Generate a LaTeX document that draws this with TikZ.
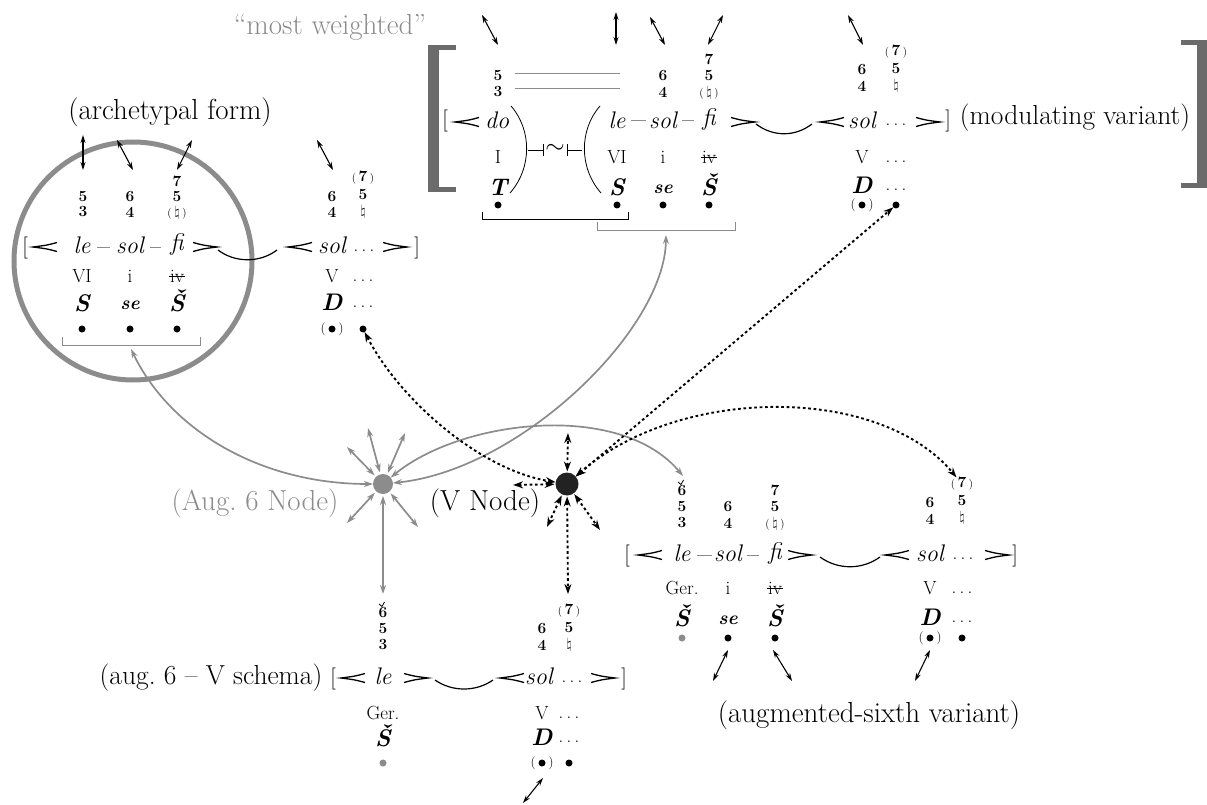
\documentclass[tikz,border=0pt]{standalone}
\usepackage{fontspec}
\usetikzlibrary{arrows.meta}
\definecolor{gr}{HTML}{8C8C8C}
\definecolor{brk}{HTML}{6B6B6B}
\definecolor{vn}{HTML}{222222}
\newcommand\fs[1]{\fontsize{#1}{#1}\selectfont}
\newcommand\ivs{\ooalign{iv\cr\hidewidth\rule[.26em]{.85em}{.06em}\hidewidth\cr}}
\newcommand\pp[1]{{\mdseries\fs{11}(}\,#1\,{\mdseries\fs{11})}}
\newcommand\nat{$\natural$}
\newcommand\pdot[3]{\node[dt] (#1) at (#2,#3) {}; \node[prn] (#1p) at (#2,#3) {(\hspace{13pt})};}
\newcommand\augm[1]{\draw[line width=0.8pt] ([shift={(-4,-9)}]#1.center) -- ++(3,2.5) -- ++(2.5,-4.5);}
\tikzset{
  every node/.style={inner sep=0pt, outer sep=0pt},
  lab/.style={font=\fs{29}},
  syl/.style={font=\fs{24}\itshape},
  rn/.style={font=\fs{19}},
  fn/.style={font=\fs{24}\bfseries\itshape},
  sefn/.style={font=\fs{19}\bfseries\itshape},
  fig/.style={font=\fs{15.5}\bfseries},
  brak/.style={font=\fs{22}},
  ell/.style={font=\fs{19}},
  tild/.style={font=\fs{26}},
  dt/.style={circle, fill=black, minimum size=7pt},
  gdt/.style={circle, fill=gr, minimum size=7pt},
  prn/.style={font=\fs{13}},
  dash line/.style={gr, line width=1pt},
  brk line/.style={line width=0.9pt},
  slur/.style={line width=1.2pt},
  paren line/.style={line width=0.8pt},
  darr/.style={line width=1.1pt, {Stealth[length=8pt,width=5pt]}-{Stealth[length=8pt,width=5pt]}},
  garr/.style={gr, line width=1.7pt, {Stealth[length=9pt,width=6pt]}-{Stealth[length=9pt,width=6pt]}},
  dotarr/.style={line width=1.9pt, dash pattern=on 2.7pt off 2.7pt, {Stealth[length=10pt,width=7pt]}-{Stealth[length=10pt,width=7pt]}},
  ltp/.pic={\draw[line width=1.3pt] (12,-4.5) .. controls (2,-1.8) .. (-12,0) .. controls (2,1.8) .. (12,4.5);},
  gtp/.pic={\draw[line width=1.3pt] (-12,-4.5) .. controls (-2,-1.8) .. (12,0) .. controls (-2,1.8) .. (-12,4.5);},
}
\begin{document}
\begin{tikzpicture}[x=1pt, y=-1pt]
\useasboundingbox (0,0) rectangle (1207,805);

% ================= TOP BLOCK (modulating variant) =================
\node[lab, text=gr] (mw) at (330,27) {``most weighted''};
\fill[brk] (428,45) rectangle (439,192);
\fill[brk] (428,45) rectangle (456,50);
\fill[brk] (428,187) rectangle (456,192);
\fill[brk] (1197,40) rectangle (1207,188);
\fill[brk] (1181,40) rectangle (1207,45);
\fill[brk] (1181,183) rectangle (1207,188);

\coordinate (ta1s) at (482,15); \coordinate (ta1e) at (498,45);
\coordinate (ta2s) at (616,12); \coordinate (ta2e) at (616,45);
\coordinate (ta3s) at (650,17); \coordinate (ta3e) at (665,45);
\coordinate (ta4s) at (723,15); \coordinate (ta4e) at (708,45);
\coordinate (ta5s) at (848,15); \coordinate (ta5e) at (863,45);
\foreach \i in {1,...,5} {\draw[darr] (ta\i s) -- (ta\i e);}

\node[fig] (tf1a) at (498,76) {5};
\node[fig] (tf1b) at (498,92) {3};
\node[fig] (tf3a) at (663,76) {6};
\node[fig] (tf3b) at (663,92) {4};
\node[fig] (tf4a) at (709,59) {7};
\node[fig] (tf4b) at (709,76) {5};
\node[fig] (tf4c) at (709,93) {\pp{\nat}};
\node[fig] (tf5a) at (862,70) {6};
\node[fig] (tf5b) at (862,86) {4};
\node[fig] (tf6a) at (896,52) {\pp{7}};
\node[fig] (tf6b) at (896,69) {5};
\node[fig] (tf6c) at (896,86) {\nat};
\draw[gr, line width=0.8pt] (515,73) -- (620,73);
\draw[gr, line width=0.8pt] (515,88) -- (620,88);

\node[brak] (tbrL) at (445,121) {[};
\pic at (467,122) {ltp};
\node[syl] (tdo) at (497,120) {do};
\draw[paren line] (511,106) .. controls (532,130) and (532,168) .. (510,193);
\draw[paren line] (528,150) -- (543,150) (543,144) -- (543,156);
\node[tild] (ttil) at (555,149) {$\sim$};
\draw[paren line] (567,144) -- (567,156) (567,150) -- (582,150);
\draw[paren line] (600,106) .. controls (579,130) and (579,168) .. (601,193);
\node[syl] (tle) at (617,120) {le};
\draw[dash line] (631,121) -- (646,121);
\node[syl] (tsol) at (663,120) {sol};
\draw[dash line] (682,121) -- (694,121);
\node[syl] (tfi) at (709,120) {fi};
\pic at (743,122) {gtp};
\draw[slur] (756,124) .. controls (773,137) and (795,137) .. (812,124);
\pic at (832,122) {ltp};
\node[syl] (tsol2) at (862,120) {sol};
\node[ell] (tell1) at (896,125) {.\,.\,.};
\pic at (928,122) {gtp};
\node[brak] (tbrR) at (948,121) {]};
\node[lab, font=\fs{27.5}] (tlab) at (1075,118) {(modulating variant)};

\node[rn] (tI) at (498,157) {I};
\node[rn] (tVI) at (617,157) {VI};
\node[rn] (ti) at (663,157) {i};
\node[rn] (tiv) at (709,157) {\ivs};
\node[rn] (tV) at (862,157) {V};
\node[ell] (tell2) at (896,162) {.\,.\,.};

\node[fn] (tT) at (498,187) {T};
\node[fn] (tS) at (617,187) {S};
\node[sefn] (tse) at (663,189) {se};
\node[fn] (tSv) at (709,185) {\v{S}};
\node[fn] (tD) at (862,185) {D};
\node[ell] (tell3) at (896,190) {.\,.\,.};

\node[dt] (td1) at (498,205) {};
\node[dt] (td2) at (617,205) {};
\node[dt] (td3) at (663,205) {};
\node[dt] (td4) at (709,205) {};
\pdot{td5}{862}{205}
\node[dt] (td6) at (896,205) {};

\draw[brk line] (482,212) -- (482,219) -- (628,219) -- (628,212);
\draw[brk line, gr] (597,222) -- (597,230) -- (735,230) -- (735,222);
\coordinate (gbT) at (666,235);

% ================= LEFT BLOCK (archetypal form) =================
\draw[gr, line width=5pt] (133,261) circle[radius=119pt];
\node[lab] (llab) at (170,112) {(archetypal form)};
\coordinate (la1s) at (83,135); \coordinate (la1e) at (83,170);
\coordinate (la2s) at (117,140); \coordinate (la2e) at (133,170);
\coordinate (la3s) at (192,140); \coordinate (la3e) at (177,170);
\coordinate (la4s) at (317,140); \coordinate (la4e) at (333,170);
\foreach \i in {1,...,4} {\draw[darr] (la\i s) -- (la\i e);}

\node[fig] (lf1a) at (83,197) {5};
\node[fig] (lf1b) at (83,212) {3};
\node[fig] (lf2a) at (130,197) {6};
\node[fig] (lf2b) at (130,212) {4};
\node[fig] (lf3a) at (177,181) {7};
\node[fig] (lf3b) at (177,197) {5};
\node[fig] (lf3c) at (177,213) {\pp{\nat}};
\node[fig] (lf4a) at (332,197) {6};
\node[fig] (lf4b) at (332,212) {4};
\node[fig] (lf5a) at (363,178) {\pp{7}};
\node[fig] (lf5b) at (363,195) {5};
\node[fig] (lf5c) at (363,212) {\nat};

\node[brak] (lbrL) at (25,248) {[};
\pic at (45,247) {ltp};
\node[syl] (lle) at (82,245) {le};
\draw[dash line] (97,247) -- (110,247);
\node[syl] (lsol) at (130,245) {sol};
\draw[dash line] (150,247) -- (161,247);
\node[syl] (lfi) at (177,245) {fi};
\pic at (205,247) {gtp};
\draw[slur] (218,250) .. controls (235,263) and (260,263) .. (277,250);
\pic at (300,247) {ltp};
\node[syl] (lsol2) at (332,245) {sol};
\node[ell] (lell1) at (364,251) {.\,.\,.};
\pic at (395,247) {gtp};
\node[brak] (lbrR) at (417,248) {]};

\node[rn] (lVI) at (82,276) {VI};
\node[rn] (li) at (130,276) {i};
\node[rn] (liv) at (177,276) {\ivs};
\node[rn] (lV) at (332,276) {V};
\node[ell] (lell2) at (363,281) {.\,.\,.};

\node[fn] (lS) at (82,303) {S};
\node[sefn] (lse) at (130,305) {se};
\node[fn] (lSv) at (177,301) {\v{S}};
\node[fn] (lD) at (332,302) {D};
\node[ell] (lell3) at (363,307) {.\,.\,.};

\node[dt] (ld1) at (82,329) {};
\node[dt] (ld2) at (130,329) {};
\node[dt] (ld3) at (177,329) {};
\pdot{ld4}{332}{329}
\node[dt] (ld5) at (363,329) {};

\draw[brk line, gr] (62,337) -- (62,345) -- (200,345) -- (200,337);
\coordinate (gbL) at (131,349);

% ================= CENTRAL NODES =================
\node[circle, fill=gr, minimum size=20pt] (A6) at (383,484) {};
\node[circle, fill=vn, minimum size=23pt] (V) at (567,484) {};
\node[lab, text=gr] (A6lab) at (255,503) {(Aug.\ 6 Node)};
\node[lab] (Vlab) at (485,503) {(V Node)};

% ================= RIGHT BLOCK (augmented-sixth variant) =================
\node[fig] (rf1a) at (682,491) {6};
\augm{rf1a}
\node[fig] (rf1b) at (682,507) {5};
\node[fig] (rf1c) at (682,523) {3};
\node[fig] (rf2a) at (728,507) {6};
\node[fig] (rf2b) at (728,523) {4};
\node[fig] (rf3a) at (775,490) {7};
\node[fig] (rf3b) at (775,507) {5};
\node[fig] (rf3c) at (775,524) {\pp{\nat}};
\node[fig] (rf4a) at (930,503) {6};
\node[fig] (rf4b) at (930,519) {4};
\node[fig] (rf5a) at (962,484) {\pp{7}};
\node[fig] (rf5b) at (962,501) {5};
\node[fig] (rf5c) at (962,518) {\nat};

\node[brak] (rbrL) at (627,556) {[};
\pic at (650,555) {ltp};
\node[syl] (rle) at (682,553) {le};
\draw[dash line] (697,555) -- (712,555);
\node[syl] (rsol) at (728,553) {sol};
\draw[dash line] (747,555) -- (759,555);
\node[syl] (rfi) at (775,553) {fi};
\pic at (800,555) {gtp};
\draw[slur] (820,557) .. controls (838,570) and (862,570) .. (880,557);
\pic at (897,555) {ltp};
\node[syl] (rsol2) at (930,553) {sol};
\node[ell] (rell1) at (963,559) {.\,.\,.};
\pic at (997,555) {gtp};
\node[brak] (rbrR) at (1015,556) {]};

\node[rn] (rGer) at (682,588) {Ger.};
\node[rn] (ri) at (728,588) {i};
\node[rn] (riv) at (775,588) {\ivs};
\node[rn] (rV) at (930,588) {V};
\node[ell] (rell2) at (962,593) {.\,.\,.};

\node[fn] (rSv1) at (682,616) {\v{S}};
\node[sefn] (rse) at (728,620) {se};
\node[fn] (rSv2) at (775,616) {\v{S}};
\node[fn] (rD) at (930,617) {D};
\node[ell] (rell3) at (962,622) {.\,.\,.};

\node[gdt] (rd1) at (682,638) {};
\node[dt] (rd2) at (728,638) {};
\node[dt] (rd3) at (775,638) {};
\pdot{rd4}{930}{638}
\node[dt] (rd5) at (962,638) {};

\coordinate (ra1s) at (728,650); \coordinate (ra1e) at (713,681);
\coordinate (ra2s) at (773,650); \coordinate (ra2e) at (792,681);
\coordinate (ra3s) at (930,650); \coordinate (ra3e) at (915,681);
\foreach \i in {1,...,3} {\draw[darr] (ra\i s) -- (ra\i e);}
\node[lab] (rlab) at (869,715) {(augmented-sixth variant)};

% ================= BOTTOM BLOCK (aug. 6 - V schema) =================
\node[lab, font=\fs{27.5}] (blab) at (211,678) {(aug.\ 6 -- V schema)};
\node[brak] (bbrL) at (333,679) {[};
\pic at (353,678) {ltp};
\node[syl] (ble) at (383,676) {le};
\pic at (416,678) {gtp};
\draw[slur] (435,680) .. controls (452,692) and (476,692) .. (493,680);
\pic at (512,678) {ltp};
\node[syl] (bsol) at (539,676) {sol};
\node[ell] (bell1) at (572,682) {.\,.\,.};
\pic at (603,678) {gtp};
\node[brak] (bbrR) at (624,679) {]};

\node[fig] (bf1a) at (383,613) {6};
\augm{bf1a}
\node[fig] (bf1b) at (383,629) {5};
\node[fig] (bf1c) at (383,645) {3};
\node[fig] (bf2a) at (542,629) {6};
\node[fig] (bf2b) at (542,645) {4};
\node[fig] (bf3a) at (569,611) {\pp{7}};
\node[fig] (bf3b) at (569,628) {5};
\node[fig] (bf3c) at (569,645) {\nat};

\node[rn] (bGer) at (383,713) {Ger.};
\node[rn] (bV) at (542,713) {V};
\node[ell] (bell2) at (569,718) {.\,.\,.};
\node[fn] (bSv) at (383,736) {\v{S}};
\node[fn] (bD) at (542,737) {D};
\node[ell] (bell3) at (569,742) {.\,.\,.};
\node[gdt] (bd1) at (383,763) {};
\pdot{bd2}{542}{763}
\node[dt] (bd3) at (569,763) {};
\coordinate (ba1s) at (543,778); \coordinate (ba1e) at (523,803);
\draw[darr] (ba1s) -- (ba1e);

% ================= CONNECTORS =================
\coordinate (a1) at (347,447);
\coordinate (a2) at (368,428);
\coordinate (a3) at (405,433);
\coordinate (a4) at (347,523);
\coordinate (a5) at (418,527);
\coordinate (a6) at (383,594);
\foreach \i in {1,...,6} {\draw[garr, shorten <=2pt] (A6) -- (a\i);}
\draw[garr] (gbL) .. controls (170,430) and (260,484) .. (A6);
\draw[garr] (A6) .. controls (520,470) and (665,330) .. (gbT);
\coordinate (rg) at (683,476);
\draw[garr] (A6) .. controls (460,420) and (620,400) .. (rg);

\coordinate (v1) at (568,433);
\coordinate (v2) at (513,485);
\coordinate (v3) at (547,527);
\coordinate (v4) at (600,530);
\coordinate (v5) at (568,594);
\foreach \i in {1,...,5} {\draw[dotarr, shorten <=1pt] (V) -- (v\i);}
\draw[dotarr] (ld5) .. controls (400,400) and (480,470) .. (V);
\draw[dotarr] (V) -- (td6);
\draw[dotarr] (V) .. controls (680,385) and (880,385) .. (rf5a);
\end{tikzpicture}
\end{document}
